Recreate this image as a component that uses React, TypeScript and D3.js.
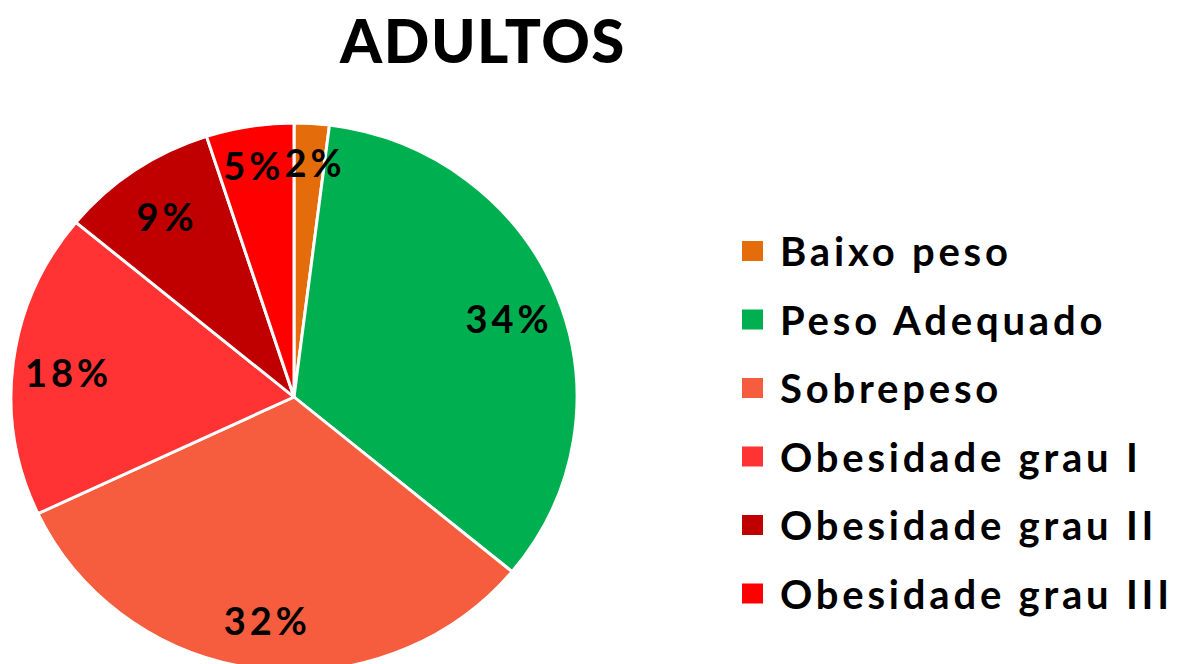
import React from "react";
import * as d3 from "d3";

const title = "ADULTOS";
const categories = [
  "Baixo peso",
  "Peso Adequado",
  "Sobrepeso",
  "Obesidade grau I",
  "Obesidade grau II",
  "Obesidade grau III",
];
const values = [2, 34, 32, 18, 9, 5];
const colors = ["#E46C0A", "#00B050", "#F55D3E", "#FF3333", "#C00000", "#FF0000"];

const W = 1179;
const H = 664;
const cx = 294;
const cy = 397;
const R = 283;
const yScale = 274 / 283;
const FONT = "Lato, 'Open Sans', sans-serif";

function measure(text: string, size: number, weight: number, ls: number) {
  const c = document.createElement("canvas").getContext("2d");
  if (!c) return text.length * size * 0.6 + ls * text.length;
  c.font = `${weight} ${size}px Lato, 'Open Sans', sans-serif`;
  return c.measureText(text).width + ls * (text.length - 1);
}

export default function App() {
  const pie = d3.pie<number>().value((d) => d).sort(null);
  const arcs = pie(values);
  const arc = d3.arc<d3.PieArcDatum<number>>().innerRadius(0).outerRadius(R);
  const total = d3.sum(values);
  const fmt = (v: number) => `${Math.round((v / total) * 100)}%`;

  const fontSize = 38;
  const ls = 4;
  const labels = arcs.map((a, i) => {
    // small slices get labels pushed toward the rim (best-fit style)
    const frac = values[i] / total < 0.06 ? 0.87 : 0.81;
    const lr = frac * R;
    const la = d3.arc<d3.PieArcDatum<number>>().innerRadius(lr).outerRadius(lr);
    const [x, y] = la.centroid(a);
    const text = fmt(values[i]);
    const w = measure(text, fontSize, 700, ls);
    return { x, y: y * yScale + 3, text, w };
  });
  for (let iter = 0; iter < 30; iter++) {
    for (let i = 0; i < labels.length; i++) {
      for (let j = i + 1; j < labels.length; j++) {
        const a = labels[i];
        const b = labels[j];
        const minDx = (a.w + b.w) / 2 + 4;
        const dx = b.x - a.x;
        if (Math.abs(dx) < minDx && Math.abs(b.y - a.y) < fontSize) {
          const push = (minDx - Math.abs(dx)) / 2;
          const s = dx >= 0 ? 1 : -1;
          a.x -= push * s;
          b.x += push * s;
        }
      }
    }
  }

  const legendX = 742;
  const legendY0 = 251;
  const legendStep = 68.5;

  return (
    <div style={{ position: "absolute", left: 0, top: 0 }}>
      <svg width={W} height={H} style={{ display: "block", background: "#fff" }}>
        <text
          x={483}
          y={63}
          textAnchor="middle"
          fontFamily={FONT}
          fontWeight={900}
          fontSize={60}
          letterSpacing={1.5}
          fill="#000"
        >
          {title}
        </text>
        <g transform={`translate(${cx},${cy}) scale(1,${yScale})`}>
          {arcs.map((a, i) => (
            <path
              key={categories[i]}
              d={arc(a) || ""}
              fill={colors[i]}
              stroke="#fff"
              strokeWidth={3}
              strokeLinejoin="round"
            />
          ))}
        </g>
        <g transform={`translate(${cx},${cy})`}>
          {labels.map((l, i) => (
            <text
              key={i}
              x={l.x - l.w / 2}
              y={l.y}
              textAnchor="start"
              dominantBaseline="central"
              fontFamily={FONT}
              fontWeight={700}
              fontSize={fontSize}
              letterSpacing={ls}
              fill="#000"
            >
              {l.text}
            </text>
          ))}
        </g>
        <g>
          {categories.map((c, i) => (
            <g key={c} transform={`translate(${legendX},${legendY0 + i * legendStep})`}>
              <rect x={0} y={-10} width={21} height={20} fill={colors[i]} />
              <text
                x={38}
                y={0}
                dominantBaseline="central"
                fontFamily={FONT}
                fontWeight={700}
                fontSize={40}
                letterSpacing={3.8}
                fill="#000"
              >
                {c}
              </text>
            </g>
          ))}
        </g>
      </svg>
    </div>
  );
}
